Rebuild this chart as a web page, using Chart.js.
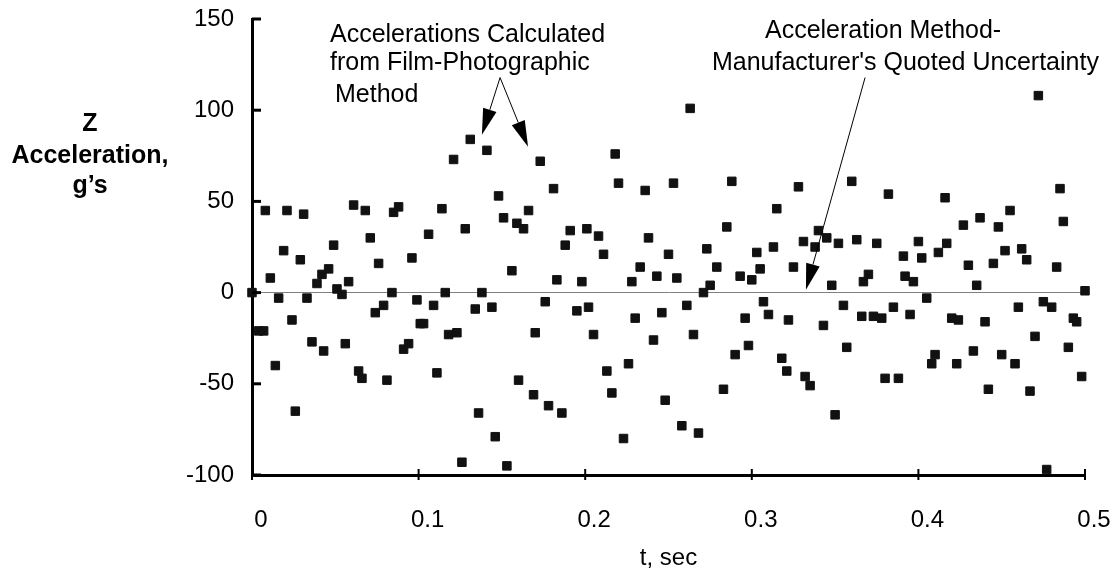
<!DOCTYPE html>
<html>
<head>
<meta charset="utf-8">
<title>Z Acceleration vs time</title>
<script src="https://cdn.jsdelivr.net/npm/chart.js@4"></script>
<style>
  html, body { margin: 0; padding: 0; background: #fff; }
  #chart-box { width: 1114px; height: 570px; }
</style>
</head>
<body>
<div id="chart-box"><canvas id="accel-chart" width="1114" height="570"></canvas></div>
<script>
// time stamps (sec), one block per 0.1 s
const timeSec = [
  0.000, 0.004, 0.007, 0.008, 0.011, 0.014, 0.016, 0.019, 0.021, 0.024,
  0.026, 0.029, 0.031, 0.033, 0.036, 0.039, 0.042, 0.043, 0.046, 0.049,
  0.051, 0.054, 0.056, 0.058, 0.061, 0.064, 0.066, 0.068, 0.071, 0.074,
  0.076, 0.079, 0.081, 0.084, 0.085, 0.088, 0.091, 0.094, 0.096, 0.099,
  0.101, 0.103,
  0.106, 0.109, 0.111, 0.114, 0.116, 0.118, 0.121, 0.123, 0.126, 0.128,
  0.131, 0.134, 0.136, 0.138, 0.141, 0.144, 0.146, 0.148, 0.151, 0.153,
  0.156, 0.159, 0.160, 0.163, 0.166, 0.169, 0.170, 0.173, 0.176, 0.178,
  0.181, 0.183, 0.186, 0.188, 0.191, 0.195, 0.198, 0.201, 0.202, 0.205,
  0.208, 0.211, 0.213, 0.216, 0.218, 0.220, 0.223, 0.226, 0.228, 0.230,
  0.233, 0.236, 0.238, 0.241, 0.243, 0.246, 0.248, 0.250, 0.253, 0.255,
  0.258, 0.261, 0.263, 0.265, 0.268, 0.271, 0.273, 0.275, 0.279, 0.283,
  0.285, 0.288, 0.290, 0.293, 0.296, 0.298, 0.300, 0.303, 0.305,
  0.307, 0.310, 0.313, 0.315, 0.318, 0.321, 0.322, 0.325, 0.328, 0.331,
  0.332, 0.335, 0.338, 0.340, 0.343, 0.345, 0.348, 0.350, 0.352, 0.355,
  0.357, 0.360, 0.363, 0.366, 0.367, 0.370, 0.373, 0.375, 0.378, 0.380,
  0.382, 0.385, 0.388, 0.391, 0.392, 0.395, 0.397, 0.400, 0.402, 0.405,
  0.408, 0.410, 0.412, 0.416, 0.417, 0.420, 0.423, 0.424, 0.427, 0.430,
  0.433, 0.435, 0.437, 0.440, 0.442, 0.445, 0.448, 0.450, 0.452, 0.455,
  0.458, 0.460, 0.462, 0.465, 0.467, 0.470, 0.472, 0.475, 0.477, 0.480,
  0.483, 0.485, 0.487, 0.490, 0.493, 0.495, 0.498, 0.500
];

// Z acceleration (g's), same order as timeSec
const zAccel = [
  0, -21, -21, 45, 8, -40, -3, 23, 45, -15,
  -65, 18, 43, -3, -27, 5, 10, -32, 13, 26,
  2, -1, -28, 6, 48, -43, -47, 45, 30, -11,
  16, -7, -48, 0, 44, 47, -31, -28, 19, -4,
  -17, -17,
  32, -7, -44, 46, 0, -23, 73, -22, -93, 35,
  84, -9, -66, 0, 78, -8, -79, 53, 41, -95,
  12, 38, -48, 35, 45, -56, -22, 72, -5, -62,
  57, 7, -66, 26, 34, -10, 6, 35, -8, -23,
  31, 21, -43, -55, 76, 60, -80, -39, 6, -14,
  14, 56, 30, -26, 9, -11, -59, 21, 60, 8,
  -73, -7, 101, -23, -77, 0, 24, 4, 14, -53,
  36, 61, -34, 9, -14, -29, 7, 22, 13,
  -5, -12, 25, 46, -36, -43, -15, 14, 58, 28,
  -46, -51, 25, 34, -18, 30, 4, -67, 27, -7,
  -30, 61, 29, -13, 6, 10, -13, 27, -14, -47,
  54, -8, -47, 20, 9, -12, 6, 28, 19, -3,
  -39, -34, 22, 52, 27, -14, -39, -15, 37, 15,
  -32, 4, 41, -16, -53, 16, 36, -34, 23, 45,
  -39, -8, 24, 18, -54, -24, 108, -5, -97, -8,
  14, 57, 39, -30, -14, -16, -46, 1
];

const xTickLabels = ['0', '0.1', '0.2', '0.3', '0.4', '0.5'];
const yTickLabels = ['-100', '-50', '0', '50', '100', '150'];
const yTitleLines = ['Z', 'Acceleration,', 'g\u2019s'];

const FONT = '"Liberation Sans", Arial, Helvetica, sans-serif';

// callout text and arrows, anchored in data units (t, g's)
const notes = [
  { text: 'Accelerations Calculated', t: 0.0468, g: 137.6 },
  { text: 'from Film-Photographic', t: 0.0468, g: 122.3 },
  { text: 'Method', t: 0.0498, g: 104.7 },
  { text: 'Acceleration Method-', t: 0.3079, g: 139.8 },
  { text: 'Manufacturer\'s Quoted Uncertainty', t: 0.2761, g: 122.3 }
];
const arrows = [
  { from: [0.1489, 117.9], to: [0.1380, 86.6] },
  { from: [0.1489, 117.9], to: [0.1657, 80.0] },
  { from: [0.3680, 117.9], to: [0.3325, 1.6] }
];

function drawArrow(ctx, x0, y0, x1, y1) {
  const ang = Math.atan2(y1 - y0, x1 - x0);
  const len = 26, half = 7;
  const bx = x1 - len * Math.cos(ang);
  const by = y1 - len * Math.sin(ang);
  ctx.lineWidth = 1;
  ctx.beginPath();
  ctx.moveTo(x0, y0);
  ctx.lineTo(bx, by);
  ctx.stroke();
  ctx.beginPath();
  ctx.moveTo(x1, y1);
  ctx.lineTo(bx + half * Math.sin(ang), by - half * Math.cos(ang));
  ctx.lineTo(bx - half * Math.sin(ang), by + half * Math.cos(ang));
  ctx.closePath();
  ctx.fill();
}

const figureNotes = {
  id: 'figureNotes',
  afterDraw(chart) {
    const ctx = chart.ctx;
    const xs = chart.scales.x, ys = chart.scales.y;
    const area = chart.chartArea;
    ctx.save();
    ctx.strokeStyle = '#000';
    ctx.fillStyle = '#000';

    // y ticks point into the plot
    ctx.lineWidth = 3;
    ys.ticks.forEach(tk => {
      const py = ys.getPixelForValue(tk.value);
      ctx.beginPath();
      ctx.moveTo(area.left, py);
      ctx.lineTo(area.left + 9, py);
      ctx.stroke();
    });
    // x ticks cross the axis
    ctx.lineWidth = 2;
    xs.ticks.forEach(tk => {
      const px = xs.getPixelForValue(tk.value);
      ctx.beginPath();
      ctx.moveTo(px, area.bottom - 6);
      ctx.lineTo(px, area.bottom + 5);
      ctx.stroke();
    });

    // horizontal y title, three lines
    ctx.font = 'bold 25px ' + FONT;
    ctx.textAlign = 'center';
    ctx.textBaseline = 'alphabetic';
    [131, 163, 193].forEach((py, i) => ctx.fillText(yTitleLines[i], 90, py));

    // callouts
    ctx.font = '25px ' + FONT;
    ctx.textAlign = 'left';
    notes.forEach(n => {
      ctx.fillText(n.text, xs.getPixelForValue(n.t), ys.getPixelForValue(n.g));
    });
    arrows.forEach(a => {
      drawArrow(ctx,
        xs.getPixelForValue(a.from[0]), ys.getPixelForValue(a.from[1]),
        xs.getPixelForValue(a.to[0]), ys.getPixelForValue(a.to[1]));
    });
    ctx.restore();
  }
};

const ctx = document.getElementById('accel-chart').getContext('2d');
const chart = new Chart(ctx, {
  type: 'scatter',
  data: {
    datasets: [{
      label: 'Z acceleration',
      data: timeSec.map((t, i) => ({ x: t, y: zAccel[i] })),
      pointStyle: 'rect',
      pointRadius: 6,
      pointHoverRadius: 6,
      backgroundColor: '#111',
      borderColor: '#111',
      borderWidth: 1,
      clip: false
    }]
  },
  options: {
    responsive: false,
    animation: false,
    devicePixelRatio: 1,
    layout: { padding: { top: 19, right: 29, left: 0, bottom: 0 } },
    plugins: {
      legend: { display: false },
      tooltip: { enabled: false },
      title: { display: false }
    },
    scales: {
      x: {
        type: 'linear',
        min: 0,
        max: 0.5,
        afterFit: s => {
          s.height = 95;
          // let the layout padding alone decide the right edge
          s.paddingLeft = 0;
          s.paddingRight = 0;
        },
        border: { display: true, color: '#000', width: 3 },
        grid: { display: false, drawTicks: false },
        ticks: {
          stepSize: 0.1,
          padding: 31,
          labelOffset: 9,
          color: '#000',
          font: { family: FONT, size: 24 },
          callback: (v, i) => xTickLabels[i]
        },
        title: {
          display: true,
          text: 't, sec',
          color: '#000',
          font: { family: FONT, size: 24, lineHeight: 1 },
          padding: { top: 0, bottom: 0 }
        }
      },
      y: {
        min: -100,
        max: 150,
        afterFit: s => {
          s.width = 252;
          s.paddingTop = 0;
          s.paddingBottom = 0;
        },
        border: { display: true, color: '#000', width: 3 },
        grid: {
          drawTicks: false,
          lineWidth: 1,
          color: c => (c.tick && c.tick.value === 0) ? '#808080' : 'rgba(0,0,0,0)'
        },
        ticks: {
          stepSize: 50,
          padding: 18,
          color: '#000',
          font: { family: FONT, size: 24 },
          callback: (v, i) => yTickLabels[i]
        }
      }
    }
  },
  plugins: [figureNotes]
});
</script>
</body>
</html>
